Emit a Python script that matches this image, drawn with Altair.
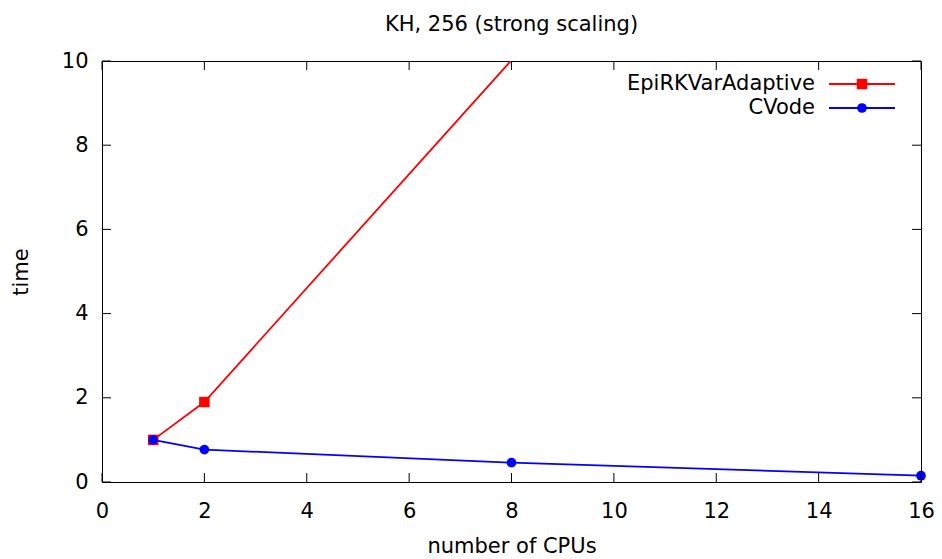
import altair as alt
import pandas as pd

# ---- data ----
cpus_epi = [1, 2, 8]
time_epi = [1.0, 1.9, 10.02]
cpus_cv = [1, 2, 8, 16]
time_cv = [1.0, 0.77, 0.46, 0.15]
series_names = ["EpiRKVarAdaptive", "CVode"]
series_colors = ["#ff0000", "#0000ff"]
x_ticks = [0, 2, 4, 6, 8, 10, 12, 14, 16]
y_ticks = [0, 2, 4, 6, 8, 10]

W, H = 819, 421
FONT = "DejaVu Sans"
FS = 21

df = pd.concat([
    pd.DataFrame({"cpus": cpus_epi, "time": time_epi, "series": series_names[0]}),
    pd.DataFrame({"cpus": cpus_cv, "time": time_cv, "series": series_names[1]}),
])

xs = alt.Scale(domain=[0, 16], nice=False, zero=False)
ys = alt.Scale(domain=[0, 10], nice=False, zero=False)
cs = alt.Scale(domain=series_names, range=series_colors)

xaxis = alt.Axis(values=x_ticks, ticks=False, grid=False, domain=False,
                 labelPadding=18, labelFlush=False, labelOverlap=False,
                 title="number of CPUs", titlePadding=14,
                 titleFontWeight="normal")
yaxis = alt.Axis(values=y_ticks, ticks=False, grid=False, domain=False,
                 labelPadding=14, labelFlush=False, labelOverlap=False,
                 title="time", titlePadding=30,
                 titleFontWeight="normal")

base = alt.Chart(df)

lines = base.mark_line(clip=True, strokeWidth=1.8).encode(
    x=alt.X("cpus:Q", scale=xs, axis=xaxis),
    y=alt.Y("time:Q", scale=ys, axis=yaxis),
    color=alt.Color("series:N", scale=cs, legend=None),
)

pts_epi = alt.Chart(df[df.series == series_names[0]]).transform_filter(
    "datum.time <= 10").mark_square(size=110, opacity=1).encode(
    x=alt.X("cpus:Q", scale=xs), y=alt.Y("time:Q", scale=ys),
    color=alt.Color("series:N", scale=cs, legend=None))
pts_cv = alt.Chart(df[df.series == series_names[1]]).transform_filter(
    "datum.time <= 10").mark_circle(size=95, opacity=1).encode(
    x=alt.X("cpus:Q", scale=xs), y=alt.Y("time:Q", scale=ys),
    color=alt.Color("series:N", scale=cs, legend=None))

xt = pd.DataFrame({"cpus": x_ticks})
yt = pd.DataFrame({"time": y_ticks})
tick_b = alt.Chart(xt).mark_rule(color="black").encode(
    x=alt.X("cpus:Q", scale=xs), y=alt.value(H), y2=alt.value(H - 9))
tick_t = alt.Chart(xt).mark_rule(color="black").encode(
    x=alt.X("cpus:Q", scale=xs), y=alt.value(0), y2=alt.value(9))
tick_l = alt.Chart(yt).mark_rule(color="black").encode(
    y=alt.Y("time:Q", scale=ys), x=alt.value(0), x2=alt.value(9))
tick_r = alt.Chart(yt).mark_rule(color="black").encode(
    y=alt.Y("time:Q", scale=ys), x=alt.value(W), x2=alt.value(W - 9))

# legend (gnuplot style: text left of sample)
leg_layers = []
for i, (name, col) in enumerate(zip(series_names, series_colors)):
    ly = 23 + 24 * i
    ld = pd.DataFrame({"series": [name]})
    c = alt.Chart(ld)
    leg_layers.append(c.mark_text(align="right", baseline="middle", font=FONT,
                                  fontSize=FS, color="black").encode(
        text="series:N", x=alt.value(713), y=alt.value(ly)))
    leg_layers.append(c.mark_rule(color=col, strokeWidth=1.8).encode(
        x=alt.value(727), x2=alt.value(793), y=alt.value(ly)))
    if i == 0:
        leg_layers.append(c.mark_square(size=110, opacity=1, color=col).encode(
            x=alt.value(760), y=alt.value(ly)))
    else:
        leg_layers.append(c.mark_circle(size=95, opacity=1, color=col).encode(
            x=alt.value(760), y=alt.value(ly)))

chart = alt.layer(lines, pts_epi, pts_cv, tick_b, tick_t, tick_l, tick_r,
                  *leg_layers).properties(
    width=W, height=H,
    title=alt.Title("KH, 256 (strong scaling)", font=FONT, fontSize=FS,
                    fontWeight="normal", offset=15),
    autosize=alt.AutoSizeParams(type="none"),
    padding={"left": 102, "top": 61, "right": 21, "bottom": 77},
    background="white",
).configure_view(stroke="black", strokeWidth=1).configure_axis(
    labelFont=FONT, labelFontSize=FS, titleFont=FONT, titleFontSize=FS,
    labelColor="black", titleColor="black"
)

chart.save("out.html", embed_options={"renderer": "svg", "actions": False})
